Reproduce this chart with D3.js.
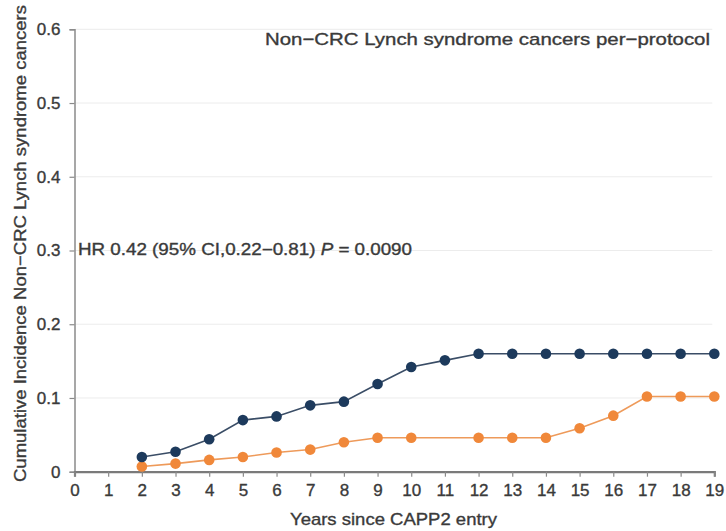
<!DOCTYPE html>
<html>
<head>
<meta charset="utf-8">
<script src="https://cdn.jsdelivr.net/npm/d3@7"></script>
<style>
  html, body { margin: 0; padding: 0; background: #fff; }
  svg { display: block; font-family: "Liberation Sans", Arial, Helvetica, sans-serif; }
  svg text { stroke: #3a3a3a; stroke-width: 0.35px; }
</style>
</head>
<body>
<svg id="chart" width="726" height="531"></svg>
<script>
// ---- data ----
const xTicks = [0,1,2,3,4,5,6,7,8,9,10,11,12,13,14,15,16,17,18,19];
const yTicks = [0, 0.1, 0.2, 0.3, 0.4, 0.5, 0.6];
const yTickLabels = ["0", "0.1", "0.2", "0.3", "0.4", "0.5", "0.6"];

const placeboYears = [2,3,4,5,6,7,8,9,10,11,12,13,14,15,16,17,18,19];
const placeboValues = [0.020,0.027,0.044,0.070,0.075,0.090,0.095,0.119,0.142,0.151,0.160,0.160,0.160,0.160,0.160,0.160,0.160,0.160];

const aspirinYears = [2,3,4,5,6,7,8,9,10,12,13,14,15,16,17,18,19];
const aspirinValues = [0.007,0.011,0.016,0.020,0.026,0.030,0.040,0.046,0.046,0.046,0.046,0.046,0.059,0.076,0.102,0.102,0.102];

const titleText = "Non\u2212CRC Lynch syndrome cancers per\u2212protocol";
const yTitle = "Cumulative Incidence Non\u2212CRC Lynch syndrome cancers";
const xTitle = "Years since CAPP2 entry";

// ---- drawing ----
const svg = d3.select("#chart");
const x = d3.scaleLinear().domain([0, 19]).range([74.5, 714.3]);
const y = d3.scaleLinear().domain([0, 0.6]).range([471.7, 29.3]);

const textColor = "#3a3a3a";
const fontSize = 17;

// gridlines
svg.append("g").selectAll("line")
  .data(yTicks.filter(d => d > 0))
  .join("line")
  .attr("x1", x(0)).attr("x2", x(19) - 2)
  .attr("y1", d => y(d)).attr("y2", d => y(d))
  .attr("stroke", "#ececec").attr("stroke-width", 1);

// y axis
const yAxis = svg.append("g")
  .attr("transform", `translate(${x(0)},0)`)
  .call(d3.axisLeft(y).tickValues(yTicks).tickFormat((d, i) => yTickLabels[i]).tickSize(5).tickPadding(9));
yAxis.select(".domain").attr("stroke", "#8a8a8a").attr("stroke-width", 1.5);
yAxis.selectAll(".tick line").attr("stroke", "#8a8a8a").attr("stroke-width", 1.2);
yAxis.selectAll(".tick text").attr("fill", textColor).attr("font-size", fontSize)
  .attr("font-family", "Liberation Sans, Arial, sans-serif");

// x axis
const xAxis = svg.append("g")
  .attr("transform", `translate(0,${y(0)})`)
  .call(d3.axisBottom(x).tickValues(xTicks).tickFormat(d3.format("d")).tickSize(5).tickPadding(7));
xAxis.select(".domain").attr("stroke", "#7a7a7a").attr("stroke-width", 2.2);
xAxis.selectAll(".tick line").attr("stroke", "#8a8a8a").attr("stroke-width", 1.2);
xAxis.selectAll(".tick text").attr("fill", textColor).attr("font-size", fontSize)
  .attr("font-family", "Liberation Sans, Arial, sans-serif");

// lines
const line = d3.line().x(d => x(d[0])).y(d => y(d[1]));
const series = [
  { years: aspirinYears, values: aspirinValues, color: "#f0883a", lineColor: "#ee9a5a" },
  { years: placeboYears, values: placeboValues, color: "#1d3a5c", lineColor: "#3a4d66" }
];
series.forEach(s => {
  const pts = s.years.map((yr, i) => [yr, s.values[i]]);
  svg.append("path").datum(pts)
    .attr("d", line).attr("fill", "none")
    .attr("stroke", s.lineColor).attr("stroke-width", 1.6);
  svg.append("g").selectAll("circle").data(pts).join("circle")
    .attr("cx", d => x(d[0])).attr("cy", d => y(d[1])).attr("r", 5.3)
    .attr("fill", s.color);
});

// title
svg.append("text")
  .attr("x", 265).attr("y", 44.5)
  .attr("font-size", fontSize).attr("fill", textColor)
  .attr("textLength", 445).attr("lengthAdjust", "spacingAndGlyphs")
  .text(titleText);

// annotation
const ann = svg.append("text")
  .attr("x", 78).attr("y", y(0.3) + 4)
  .attr("font-size", 16).attr("fill", textColor)
  .attr("textLength", 334).attr("lengthAdjust", "spacingAndGlyphs");
ann.append("tspan").text("HR 0.42 (95% CI,0.22\u22120.81) ");
ann.append("tspan").attr("font-style", "italic").text("P");
ann.append("tspan").text(" = 0.0090");

// x title
svg.append("text")
  .attr("x", 290).attr("y", 525)
  .attr("font-size", fontSize).attr("fill", textColor)
  .attr("textLength", 207).attr("lengthAdjust", "spacingAndGlyphs")
  .text(xTitle);

// y title
svg.append("text")
  .attr("transform", "translate(26,482) rotate(-90)")
  .attr("x", 0).attr("y", 0)
  .attr("font-size", fontSize).attr("fill", textColor)
  .attr("textLength", 477).attr("lengthAdjust", "spacingAndGlyphs")
  .text(yTitle);
</script>
</body>
</html>
